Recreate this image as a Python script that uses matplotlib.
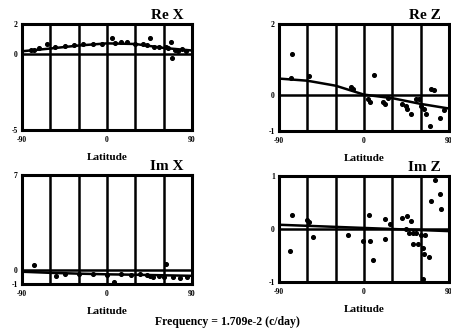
import matplotlib
matplotlib.use("Agg")
import matplotlib.pyplot as plt
import numpy as np

plt.rcParams['font.family'] = ['Liberation Serif', 'DejaVu Serif']

# ---- data ----
grid_lat = [-60, -30, 0, 30, 60]
xticks = [-90, 0, 90]
xticklabels = ["-90", "0", "90"]
fit_lat = [-90, -60, -30, 0, 30, 60, 90]

# Re X
rex_ylim = (-5, 2)
rex_yticks = [-5, 0, 2]
rex_lat = [-80, -77, -72, -64, -55, -45, -35, -25, -15, -5, 5, 8, 15, 21, 30, 38, 42, 46, 50, 55, 62, 65, 68, 69, 72, 75, 79, 84]
rex_val = [0.25, 0.3, 0.4, 0.7, 0.45, 0.55, 0.6, 0.65, 0.7, 0.7, 1.05, 0.75, 0.8, 0.8, 0.7, 0.65, 0.6, 1.1, 0.5, 0.5, 0.45, 0.4, 0.8, -0.25, 0.3, 0.2, 0.35, 0.2]
rex_fit = [0.2, 0.38, 0.58, 0.72, 0.68, 0.42, 0.25]

# Re Z
rez_ylim = (-1, 2)
rez_yticks = [-1, 0, 2]
rez_lat = [-76, -77, -58, -14, -12, 4, 6, 11, 20, 22, 25, 40, 44, 46, 50, 55, 58, 60, 63, 66, 70, 71, 74, 80, 85]
rez_val = [1.17, 0.49, 0.55, 0.24, 0.18, -0.1, -0.19, 0.58, -0.2, -0.24, -0.08, -0.25, -0.3, -0.39, -0.53, -0.1, -0.1, -0.29, -0.39, -0.53, -0.87, 0.19, 0.16, -0.63, -0.4]
rez_fit = [0.47, 0.41, 0.27, 0.02, -0.08, -0.24, -0.37]

# Im X
imx_ylim = (-1, 7)
imx_yticks = [-1, 0, 7]
imx_lat = [-77, -54, -45, -30, -15, 0, 7, 15, 25, 35, 42, 46, 49, 55, 60, 63, 70, 77, 85]
imx_val = [0.36, -0.4, -0.25, -0.3, -0.3, -0.35, -0.88, -0.3, -0.35, -0.3, -0.33, -0.4, -0.52, -0.4, -0.45, 0.5, -0.52, -0.57, -0.5]
imx_fit = [-0.1, -0.18, -0.24, -0.29, -0.32, -0.36, -0.4]

# Im Z
imz_ylim = (-1, 1)
imz_yticks = [-1, 0, 1]
imz_lat = [-76, -78, -60, -58, -54, -17, -1, 5, 6, 10, 22, 22, 27, 40, 44, 46, 48, 50, 52, 52, 55, 57, 60, 62, 62, 64, 65, 69, 71, 75, 80, 81]
imz_val = [0.26, -0.41, 0.17, 0.14, -0.16, -0.11, -0.22, 0.27, -0.23, -0.58, -0.19, 0.19, 0.09, 0.21, 0.0, 0.24, -0.07, 0.16, -0.07, -0.28, -0.07, -0.28, -0.12, -0.36, -0.95, -0.48, -0.12, -0.53, 0.52, 0.93, 0.66, 0.38]
imz_fit = [0.08, 0.06, 0.04, 0.02, 0.0, -0.02, -0.04]

panels = [
    ("Re X", [22, 24, 170, 106], rex_ylim, rex_yticks, rex_lat, rex_val, rex_fit),
    ("Re Z", [279, 24, 170, 107], rez_ylim, rez_yticks, rez_lat, rez_val, rez_fit),
    ("Im X", [22, 175, 170, 109], imx_ylim, imx_yticks, imx_lat, imx_val, imx_fit),
    ("Im Z", [279, 176, 170, 106], imz_ylim, imz_yticks, imz_lat, imz_val, imz_fit),
]

W, H = 452, 331
fig = plt.figure(figsize=(W / 100, H / 100), dpi=100)

for title, (px, py, pw, ph), ylim, yticks, lat, val, fit in panels:
    ax = fig.add_axes([px / W, (H - py - ph) / H, pw / W, ph / H])
    ax.set_xlim(-90, 90)
    ax.set_ylim(*ylim)
    for g in grid_lat:
        ax.axvline(g, color='black', lw=1.8, zorder=1)
    ax.axhline(0, color='black', lw=1.8, zorder=1)
    ax.plot(fit_lat, fit, color='black', lw=1.8, zorder=2)
    ax.scatter(lat, val, s=7, color='black', zorder=3)
    for s in ax.spines.values():
        s.set_linewidth(2.2)
    ax.set_xticks(xticks)
    ax.set_xticklabels(xticklabels, fontsize=5.5, fontweight='bold')
    ax.set_yticks(yticks)
    ax.set_yticklabels([str(t) for t in yticks], fontsize=5.5, fontweight='bold')
    ax.tick_params(axis='x', length=0, pad=4)
    ax.tick_params(axis='y', length=0, pad=3)
    ax.set_xlabel("Latitude", fontsize=8, fontweight='bold', labelpad=7)
    ax.text(0.95, 1.02, title, transform=ax.transAxes, ha='right', va='bottom',
            fontsize=11, fontweight='bold')

fig.text(227 / W, 1 - 322 / H, "Frequency = 1.709e-2 (c/day)", ha='center', va='center',
         fontsize=8.5, fontweight='bold')

fig.savefig("out.png", dpi=100)
